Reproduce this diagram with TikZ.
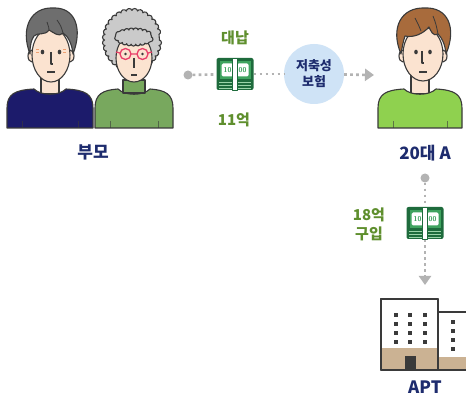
\documentclass[tikz,border=0pt]{standalone}
\usepackage{fontspec}
\usepackage{tikz}
\usetikzlibrary{arrows.meta,decorations.pathmorphing}
\newfontfamily\kr{Noto Sans CJK KR}[BoldFont={Noto Sans CJK KR Black}]

\definecolor{outl}{HTML}{3A3A3A}
\definecolor{haut}{HTML}{FBE3D0}
\definecolor{haar1}{HTML}{6E6E6E}
\definecolor{haar2}{HTML}{CACACA}
\definecolor{haar3}{HTML}{A86B3C}
\definecolor{hemd1}{HTML}{1C1B6B}
\definecolor{hemd2}{HTML}{78A85E}
\definecolor{hemd3}{HTML}{8FD14F}
\definecolor{brille}{HTML}{E8406A}
\definecolor{wange}{HTML}{F0A070}
\definecolor{navy}{HTML}{1E2C6E}
\definecolor{gruentext}{HTML}{5F8F2E}
\definecolor{hellblau}{HTML}{CFE3F6}
\definecolor{grau}{HTML}{B3B3B3}
\definecolor{dunkelgruen}{HTML}{1E6B3C}
\definecolor{mittelgruen}{HTML}{3FA35F}
\definecolor{hellgruen}{HTML}{9AD3A8}
\definecolor{beige}{HTML}{CBB293}

\begin{document}
\begin{tikzpicture}[x=1pt, y=-1pt, line join=round]
	\tikzstyle{every node}=[font=\kr\bfseries]
	\tikzstyle{kontur}=[draw=outl, line width=1.1pt]
	\tikzstyle{pfad}=[draw=grau, line width=2.6pt, dash pattern=on 2.6pt off 3.4pt]
	\tikzstyle{spitze}=[-{Triangle[width=12pt,length=9pt]}]
	\tikzstyle{punkt}=[circle, fill=grau, minimum size=9pt, inner sep=0pt]
	\tikzstyle{geld}=[rectangle, rounded corners=2pt, fill=dunkelgruen, minimum width=37pt, minimum height=32pt]
	\tikzstyle{titel}=[text=navy, font=\kr\bfseries\fontsize{17}{19}\selectfont]
	\tikzstyle{betrag}=[text=gruentext, font=\kr\bfseries\fontsize{15}{17}\selectfont]

	\fill[white] (0,0) rectangle (466,398);
	\useasboundingbox (0,0) rectangle (466,398);

	%Oberteile: Mitte/halbe Breite/Farbe
	\foreach \cx/\w/\col in {50/43/hemd1, 134/39/hemd2, 420/42/hemd3}{
		\filldraw[kontur, fill=haut] (\cx-9,74) rectangle (\cx+9,94);
		\filldraw[kontur, fill=\col] (\cx-\w,128) -- (\cx-\w,108) .. controls (\cx-\w,94) and (\cx-\w+8,90) .. (\cx-16,89)
			.. controls (\cx-9,96) and (\cx+9,96) .. (\cx+16,89) .. controls (\cx+\w-8,90) and (\cx+\w,94) .. (\cx+\w,108) -- (\cx+\w,128) -- cycle;
		\draw[outl, opacity=.6, line width=1pt] (\cx-\w+15,121) -- (\cx-\w+15,128) (\cx+\w-15,121) -- (\cx+\w-15,128);
	}

	%Vater
	\begin{scope}[shift={(51,0)}]
		\filldraw[kontur, fill=haut] (-19,56) ellipse (4 and 6) (19,56) ellipse (4 and 6);
		\filldraw[kontur, fill=haut] (0,55) ellipse (19 and 27);
		\filldraw[kontur, fill=haar1] (-21,54) .. controls (-31,28) and (-20,7) .. (2,8) .. controls (24,7) and (32,28) .. (22,54)
			.. controls (21,44) and (17,36) .. (12,33) .. controls (8,38) and (2,32) .. (-2,30) .. controls (-6,36) and (-13,32) .. (-17,36) .. controls (-20,40) and (-21,46) .. cycle;
		\draw[outl, line width=.8pt] (-4,22) .. controls (-2,28) .. (-2,30) (6,20) .. controls (10,26) .. (12,33);
		\fill[outl] (-8.5,52) ellipse (1.8 and 2.3) (8.5,52) ellipse (1.8 and 2.3);
		\draw[wange, line width=1pt] (-15,50) -- (-12,50) (-15,53) -- (-12,53) (12,50) -- (15,50) (12,53) -- (15,53);
		\draw[outl, line width=1.1pt] (0,52) -- (0,64) -- (2,64) (-4,72) -- (4,72);
	\end{scope}

	%Mutter
	\begin{scope}[shift={(134,0)}]
		\filldraw[kontur, fill=haar2, decorate, decoration={bumps, segment length=11pt, amplitude=2.5pt}] (-2,40) ellipse (27 and 29);
		\filldraw[kontur, fill=hemd2] (-11,80) rectangle (11,93);
		\filldraw[kontur, fill=haut] (0,58) ellipse (18 and 24);
		\filldraw[kontur, fill=haar2, decorate, decoration={bumps, segment length=9pt, amplitude=2pt}] (0,37) ellipse (17 and 7);
		\draw[brille, line width=1.3pt] (-8.5,54) circle (5.5) (8.5,54) circle (5.5) (-3,54) -- (3,54) (-14,53) -- (-18,52) (14,53) -- (18,52);
		\fill[outl] (-8.5,54) circle (1.4) (8.5,54) circle (1.4);
		\draw[outl, line width=1.1pt] (0,58) -- (0,68) (-3,75) -- (3,75);
	\end{scope}

	%Sohn
	\begin{scope}[shift={(423,0)}]
		\filldraw[kontur, fill=haut] (-20,56) ellipse (4 and 6) (20,56) ellipse (4 and 6);
		\filldraw[kontur, fill=haut] (0,54) ellipse (20 and 27);
		\filldraw[kontur, fill=haar3] (-22,54) .. controls (-33,28) and (-22,7) .. (2,8) .. controls (25,7) and (34,28) .. (23,54)
			.. controls (22,44) and (19,38) .. (15,34) .. controls (10,37) and (8,31) .. (6,27) .. controls (0,34) and (-10,38) .. (-18,36) .. controls (-20,42) and (-21,48) .. cycle;
		\draw[outl, line width=.8pt] (-8,18) .. controls (-4,26) .. (-2,31) (10,16) .. controls (13,24) .. (15,34);
		\fill[outl] (-7,52) ellipse (1.8 and 2.3) (7,52) ellipse (1.8 and 2.3);
		\draw[outl, line width=1.1pt] (-1,51) -- (-1,63) -- (1,63) (-4,72) -- (4,72);
	\end{scope}

	%Beschriftungen
	\node[titel] (eltern) at (93,152) {부모};
	\node[titel] (kind) at (425,153) {20대 A};
	\node[betrag] (dn) at (235,38) {대납};
	\node[betrag] (summe1) at (234,120) {11억};
	\node[betrag, align=center, font=\kr\bfseries\fontsize{15}{19}\selectfont] (summe2) at (369,224) {18억\\구입};

	%Pfad oben
	\node[punkt] (start1) at (188,75) {};
	\node[geld] (cash1) at (235,74) {};
	\node[circle, fill=hellblau, minimum size=60pt, align=center, text=navy, font=\kr\bfseries\fontsize{13}{16}\selectfont] (versich) at (314,74) {저축성\\보험};
	\coordinate (ende1) at (374,75);
	\draw[pfad] (start1) -- (cash1);
	\draw[pfad] (cash1) -- (versich);
	\draw[pfad, spitze, grau] (versich) -- (ende1);

	%Pfad unten
	\node[punkt] (start2) at (425,178) {};
	\node[geld] (cash2) at (425,223) {};
	\coordinate (ende2) at (425,285);
	\draw[pfad] (start2) -- (cash2);
	\draw[pfad, spitze, grau] (cash2) -- (ende2);

	%Geldbuendel
	\foreach \c in {cash1,cash2}{
		\begin{scope}[shift={(\c)}]
			\fill[mittelgruen] (-15.5,-13) rectangle (15.5,5);
			\fill[white, rounded corners=1.5pt] (-13.5,-10.5) rectangle (-2,2.5) (2,-10.5) rectangle (13.5,2.5);
			\node[text=mittelgruen, font=\sffamily\bfseries\fontsize{7}{7}\selectfont] (\c-a) at (-7.5,-4) {10};
			\node[text=mittelgruen, font=\sffamily\bfseries\fontsize{7}{7}\selectfont] (\c-b) at (7.5,-4) {00};
			\draw[hellgruen, line width=1pt] (-16,8.5) -- (16,8.5) (-16,11.5) -- (16,11.5) (-16,14.5) -- (16,14.5);
			\filldraw[white, draw=dunkelgruen, line width=.6pt] (-2.3,-16) rectangle (2.3,16);
		\end{scope}
	}

	%Wohnhaus
	\filldraw[kontur, fill=white] (438,312) rectangle (467,370);
	\fill[beige] (438.6,357) rectangle (466,369.4);
	\filldraw[kontur, fill=white] (381,299) rectangle (438,370);
	\fill[beige] (381.6,348) rectangle (437.4,369.4);
	\draw[kontur, fill=none] (381,299) rectangle (438,370);
	\foreach \fx in {396,410,425}
		\foreach \fy in {315,324,333,342}
			\fill[outl] (\fx-2,\fy-2) rectangle (\fx+2,\fy+2);
	\foreach \fy in {322,331,340,349}
		\fill[outl] (451,\fy-2) rectangle (455,\fy+2);
	\fill[outl] (405,356) rectangle (416,370);
	\node[titel] (apt) at (425,387) {APT};
\end{tikzpicture}
\end{document}
